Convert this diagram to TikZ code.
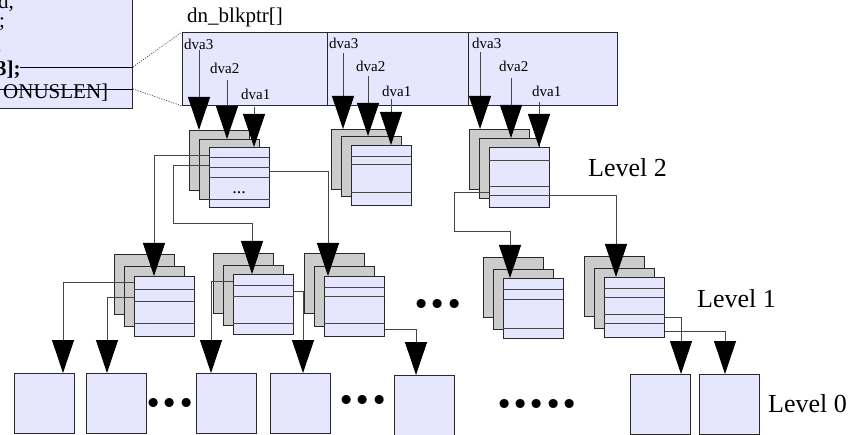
\documentclass[tikz,border=0pt]{standalone}
\usepackage{fontspec}
\setmainfont{Liberation Serif}
\newfontfamily\dotfont{DejaVu Sans}
\usetikzlibrary{arrows.meta,positioning,calc}
\definecolor{blkfill}{RGB}{230,230,255}
\definecolor{copyfill}{RGB}{204,204,204}
\definecolor{edge}{RGB}{40,40,40}
\definecolor{linecol}{RGB}{70,70,70}
\tikzset{ 
    blk/.style={
        rectangle,
        draw=edge,
        line width=0.9pt,
        fill=blkfill,
        minimum size=60pt,
        inner sep=0pt,
        anchor=north west,
    },
    copyblk/.style={
        blk,
        fill=copyfill,
    },
    link/.style={
        draw=linecol,
        line width=0.9pt,
    },
    lvl/.style={
        font=\fontsize{26}{30}\selectfont,
        inner sep=0pt,
        anchor=west,
    },
    dva/.style={
        font=\fontsize{15}{18}\selectfont,
        inner sep=0pt,
        anchor=west,
    },
    field/.style={
        font=\fontsize{21}{24}\selectfont,
        inner sep=0pt,
        anchor=base west,
    },
    more/.style={
        font=\dotfont\fontsize{31}{34}\selectfont,
        inner sep=0pt,
    },
}
% indirect block with the two copies behind it
\newcommand{\indblk}[5]{%
    \node [copyblk] (#1c) at (#2-20,#3-#4) {};
    \node [copyblk] (#1b) at (#2-10,#3-#5) {};
    \node [blk] (#1) at (#2,#3) {};
}
\newcommand{\bul}{•\kern-2pt}

\begin{document}
\begin{tikzpicture}[x=1pt,y=-1pt,>={Triangle[length=33pt,width=22pt,color=black]}]
    \useasboundingbox (0,0) rectangle (848,435);
    % dnode
    \node [blk, anchor=south east, minimum width=200pt, minimum height=130pt] (dnode) at (133,109) {};
    \node [field] (f1) at (-2,9) {d,};
    \node [field] (f2) at (-1,28) {;};
    \node [field] (f3) at (-4,52) {;};
    \node [field] (f4) at (-4,76) {\textbf{3];}};
    \node [field] (f5) at (3,99) {ONUSLEN]};
    \coordinate (row3) at ($(dnode.south east)+(0,-42)$);
    \coordinate (row4) at ($(dnode.south east)+(0,-20)$);
    \draw[link, draw=black] ($(row3)+(-113,0)$) -- (row3);
    \draw[link, draw=black] ($(row4)+(-133,0)$) -- (row4);

    % dn_blkptr[]
    \node [blk, minimum width=435pt, minimum height=73pt] (blkptr) at (182,32) {};
    \node [field, anchor=west] (bpname) at (187,17.5) {dn\_blkptr[]};
    \draw[linecol, line width=0.8pt, dash pattern=on 1pt off 1.5pt] (row3) -- (blkptr.north west);
    \draw[linecol, line width=0.8pt, dash pattern=on 1pt off 1.5pt] (row4) -- (blkptr.south west);
    \foreach \dx in {145,286}
        \draw[edge, line width=0.9pt] ($(blkptr.north west)+(\dx,0)$) -- ($(blkptr.south west)+(\dx,0)$);
    \node [dva] (d13) at (184,44) {dva3};
    \node [dva] (d12) at (210,68) {dva2};
    \node [dva] (d11) at (241,94) {dva1};
    \node [dva] (d23) at (329,43) {dva3};
    \node [dva] (d22) at (356,66) {dva2};
    \node [dva] (d21) at (382,91) {dva1};
    \node [dva] (d33) at (472,43) {dva3};
    \node [dva] (d32) at (499,66) {dva2};
    \node [dva] (d31) at (532,91) {dva1};

    % level 2
    \indblk{i21}{209}{147}{17}{8}
    \indblk{i22}{351}{145}{16}{9}
    \indblk{i23}{489}{147}{18}{9}
    % level 1
    \indblk{i11}{134}{276}{22}{10}
    \indblk{i12}{233}{274}{21}{9}
    \indblk{i13}{324}{276}{23}{10}
    \indblk{i14}{503}{278}{21}{9}
    \indblk{i15}{604}{277}{21}{9}
    % level 0
    \node [blk] (b1) at (14,373) {};
    \node [blk] (b2) at (86,373) {};
    \node [blk] (b3) at (196,373) {};
    \node [blk] (b4) at (270,373) {};
    \node [blk] (b5) at (394,375) {};
    \node [blk] (b6) at (630,374) {};
    \node [blk] (b7) at (699,374) {};

    % block pointers inside the indirect blocks
    \foreach \dy in {10,20,30,52}
        \draw[link] ($(i21.north west)+(0,\dy)$) -- ($(i21.north east)+(0,\dy)$);
    \node [font=\fontsize{18}{20}\selectfont, inner sep=0pt] (etc) at (239,193) {...};
    \foreach \dy in {11,19,47}
        \draw[link] ($(i22.north west)+(0,\dy)$) -- ($(i22.north east)+(0,\dy)$);
    \foreach \dy in {13,39,48}
        \draw[link] ($(i23.north west)+(0,\dy)$) -- ($(i23.north east)+(0,\dy)$);
    \foreach \dy in {13,25,47}
        \draw[link] ($(i11.north west)+(0,\dy)$) -- ($(i11.north east)+(0,\dy)$);
    \foreach \dy in {11,22,49}
        \draw[link] ($(i12.north west)+(0,\dy)$) -- ($(i12.north east)+(0,\dy)$);
    \foreach \dy in {11,20,47}
        \draw[link] ($(i13.north west)+(0,\dy)$) -- ($(i13.north east)+(0,\dy)$);
    \foreach \dy in {11,21,50}
        \draw[link] ($(i14.north west)+(0,\dy)$) -- ($(i14.north east)+(0,\dy)$);
    \foreach \dy in {11,20,37,46}
        \draw[link] ($(i15.north west)+(0,\dy)$) -- ($(i15.north east)+(0,\dy)$);

    % dva arrows
    \coordinate (p13) at (199,50);
    \coordinate (p12) at (227,80);
    \coordinate (p11) at (254,107);
    \coordinate (p23) at (343,53);
    \coordinate (p22) at (368,76);
    \coordinate (p21) at (391,99);
    \coordinate (p33) at (480,52);
    \coordinate (p32) at (511,78);
    \coordinate (p31) at (539,102);
    \draw[link,->] (p13) -- (p13 |- i21c.north);
    \draw[link,->] (p12) -- (p12 |- i21b.north);
    \draw[link,->] (p11) -- (p11 |- i21.north);
    \draw[link,->] (p23) -- (p23 |- i22c.north);
    \draw[link,->] (p22) -- (p22 |- i22b.north);
    \draw[link,->] (p21) -- (p21 |- i22.north);
    \draw[link,->] (p33) -- (p33 |- i23c.north);
    \draw[link,->] (p32) -- (p32 |- i23b.north);
    \draw[link,->] (p31) -- (p31 |- i23.north);

    % level 2 -> level 1
    \draw[link,->] ($(i21.north west)+(0,8)$) -| ($(i11.north west)+(20,0)$);
    \draw[link,->] ($(i21.north west)+(0,18)$) -- ++(-36,0) -- ++(0,58) -| ($(i12.north west)+(19,0)$);
    \draw[link,->] ($(i21.north east)+(0,24)$) -| ($(i13.north west)+(4,0)$);
    \draw[link,->] ($(i23.north west)+(0,45)$) -- ++(-35,0) -- ++(0,39) -| ($(i14.north west)+(7,0)$);
    \draw[link,->] ($(i23.north east)+(0,48)$) -| ($(i15.north west)+(12,0)$);
    % level 1 -> level 0
    \draw[link,->] ($(i11.north west)+(0,6)$) -| ($(b1.north west)+(49,0)$);
    \draw[link,->] ($(i11.north west)+(0,21)$) -| ($(b2.north west)+(21,0)$);
    \draw[link,->] ($(i12.north west)+(0,7)$) -| ($(b3.north west)+(15,0)$);
    \draw[link,->] ($(i12.north east)+(0,17)$) -| ($(b4.north west)+(33,0)$);
    \draw[link,->] ($(i13.north east)+(0,53)$) -| ($(b5.north west)+(22,0)$);
    \draw[link,->] ($(i15.north east)+(0,40)$) -| ($(b6.north west)+(51,0)$);
    \draw[link,->] ($(i15.north east)+(0,54)$) -| ($(b7.north west)+(26,0)$);

    \node [more] (m1) at (438,308) {\bul\bul•};
    \node [more] (m0a) at (170,406) {\bul\bul•};
    \node [more] (m0b) at (363,403) {\bul\bul•};
    \node [more] (m0c) at (537,407) {\bul\bul\bul\bul•};

    \node [lvl] (lev2) at (588,168) {Level 2};
    \node [lvl] (lev1) at (697,299) {Level 1};
    \node [lvl] (lev0) at (768,404) {Level 0};
\end{tikzpicture}
\end{document}
